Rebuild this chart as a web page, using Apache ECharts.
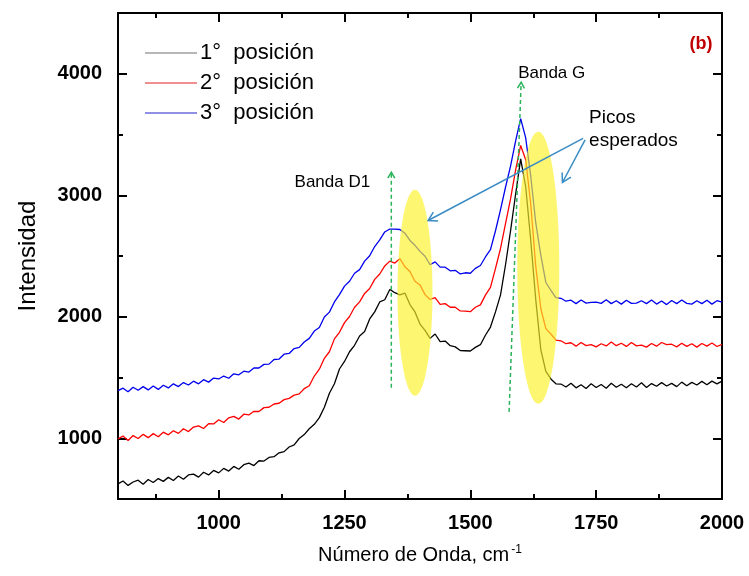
<!DOCTYPE html>
<html>
<head>
<meta charset="utf-8">
<script src="https://cdn.jsdelivr.net/npm/echarts@6/dist/echarts.min.js"></script>
<style>
  html, body { margin: 0; padding: 0; background: #fff; }
  #chart { width: 749px; height: 576px; }
</style>
</head>
<body>
<div id="chart"></div>
<script>
// Raman spectra, wavenumber 800–2000 cm-1 sampled every 10 cm-1
const waveStart = 800;
const waveStep = 10;

const seriesNames = ['1°  posición', '2°  posición', '3°  posición'];

const pos1 = [
  625, 648, 612, 640, 655, 622, 660, 636, 668, 645,
  678, 652, 690, 662, 698, 705, 680, 720, 698, 735,
  715, 752, 730, 768, 745, 782, 795, 775, 815, 812,
  842, 848, 880, 890, 928, 945, 998, 1030, 1078, 1115,
  1170, 1255, 1370, 1448, 1570, 1632, 1712, 1765, 1842, 1878,
  1982, 2040, 2122, 2140, 2225, 2198, 2180, 2195, 2100, 2040,
  1940, 1888, 1822, 1858, 1795, 1800, 1762, 1752, 1722, 1720,
  1718, 1748, 1770, 1848, 1915, 2040, 2180, 2430, 2710, 3010,
  3300, 3070, 2630, 2140, 1730, 1550, 1488, 1448, 1446, 1422,
  1452, 1415, 1440, 1410, 1448, 1418, 1442, 1412, 1452, 1420,
  1444, 1415, 1448, 1422, 1456, 1418, 1450, 1428, 1458, 1430,
  1452, 1425, 1462, 1432, 1460, 1438, 1468, 1440, 1470, 1448,
  1470
];

const pos2 = [
  995, 1018, 982, 1022, 998, 1032, 1005, 1038, 1012, 1050,
  1028, 1062, 1040, 1078, 1055, 1092, 1102, 1080, 1120, 1118,
  1152, 1130, 1168, 1180, 1158, 1198, 1192, 1222, 1220, 1252,
  1255, 1282, 1288, 1318, 1328, 1355, 1365, 1408, 1432, 1512,
  1568, 1658, 1712, 1818, 1872, 1952, 2002, 2078, 2122, 2192,
  2232, 2308, 2352, 2418, 2458, 2442, 2478, 2412, 2372, 2292,
  2262, 2182, 2142, 2158, 2102, 2108, 2078, 2078, 2048, 2046,
  2042, 2078, 2098, 2178, 2242, 2398, 2562, 2768, 2972, 3208,
  3410, 3292, 2928, 2412, 2068, 1902, 1858, 1808, 1802, 1778,
  1786, 1758, 1788, 1762, 1770, 1752, 1778, 1760, 1792, 1762,
  1782, 1756, 1788, 1760, 1766, 1750, 1780, 1758, 1788, 1770,
  1774, 1752, 1782, 1756, 1778, 1750, 1780, 1758, 1784, 1755,
  1772
];

const pos3 = [
  1392, 1412, 1382, 1420, 1395, 1425, 1398, 1430, 1402, 1436,
  1414, 1448, 1425, 1458, 1438, 1470, 1448, 1482, 1462, 1495,
  1488, 1512, 1494, 1530, 1522, 1552, 1545, 1578, 1578, 1608,
  1610, 1648, 1652, 1692, 1698, 1738, 1748, 1792, 1822, 1882,
  1912, 1998, 2038, 2122, 2182, 2252, 2292, 2358, 2388, 2458,
  2502, 2578, 2632, 2698, 2722, 2722, 2718, 2688, 2628, 2588,
  2538, 2498, 2428, 2452, 2408, 2408, 2378, 2382, 2352, 2362,
  2358, 2398, 2422, 2492, 2552, 2708, 2882, 3068, 3242, 3448,
  3630, 3472, 3158, 2772, 2508, 2282, 2218, 2158, 2152, 2128,
  2136, 2108, 2138, 2112, 2118, 2120, 2110, 2140, 2108, 2132,
  2104, 2136, 2110, 2112, 2132, 2108, 2138, 2104, 2130, 2100,
  2134, 2108, 2138, 2110, 2104, 2132, 2108, 2136, 2104, 2132,
  2120
];

// axis ticks
const xMajor = [1000, 1250, 1500, 1750, 2000];
const xMinor = [875, 1125, 1375, 1625, 1875];
const yMajor = [1000, 2000, 3000, 4000];
const yMinor = [1500, 2500, 3500];

const FONT = '"Liberation Sans", Arial, Helvetica, sans-serif';

function pairs(vals) {
  return vals.map((v, i) => [waveStart + i * waveStep, v]);
}

const chart = echarts.init(document.getElementById('chart'), null, { renderer: 'canvas' });

function frameAxis(pos, min, max, ticks, len, showLine, labels, extra, labelMargin) {
  return Object.assign({
    type: 'value',
    position: pos,
    min: min,
    max: max,
    splitLine: { show: false },
    axisLine: { show: showLine, onZero: false, lineStyle: { color: '#000', width: 2 } },
    axisTick: { show: true, inside: true, length: len, customValues: ticks,
                lineStyle: { color: '#000', width: 2 } },
    axisLabel: labels ? {
      show: true, customValues: labels, color: '#000', fontFamily: FONT,
      fontWeight: 'bold', fontSize: 20, margin: labelMargin || 14,
      formatter: function (v) { return String(v); }
    } : { show: false }
  }, extra || {});
}

const legendIcon = 'path://M0,6L52,6L52,7.2L0,7.2Z';

const option = {
  backgroundColor: '#fff',
  animation: false,
  grid: { left: 118, right: 27, top: 13, bottom: 77 },
  legend: {
    orient: 'vertical',
    left: 140,
    top: 37,
    itemWidth: 52,
    itemHeight: 14,
    itemGap: 8,
    textStyle: { fontFamily: FONT, fontSize: 22, color: '#000', padding: [0, 0, 0, -2] },
    data: [
      { name: seriesNames[0], icon: legendIcon, itemStyle: { color: '#707070' } },
      { name: seriesNames[1], icon: legendIcon, itemStyle: { color: '#e02020' } },
      { name: seriesNames[2], icon: legendIcon, itemStyle: { color: '#2020c8' } }
    ]
  },
  xAxis: [
    frameAxis('bottom', 800, 2000, xMajor, 9, true, xMajor, {
      name: 'Número de Onda, cm{sup|-1}',
      nameLocation: 'middle',
      nameGap: 45,
      nameTextStyle: {
        fontFamily: FONT, fontSize: 20, color: '#000',
        rich: { sup: { fontFamily: FONT, fontSize: 12, color: '#000', verticalAlign: 'top', padding: [0, 0, 11, 2] } }
      }
    }, 14),
    frameAxis('bottom', 800, 2000, xMinor, 5, false, null),
    frameAxis('top', 800, 2000, xMajor, 9, true, null),
    frameAxis('top', 800, 2000, xMinor, 5, false, null)
  ],
  yAxis: [
    frameAxis('left', 500, 4500, yMajor, 9, true, yMajor, {
      name: 'Intensidad',
      nameLocation: 'middle',
      nameGap: 78,
      nameTextStyle: { fontFamily: FONT, fontSize: 24, color: '#000' }
    }, 16),
    frameAxis('left', 500, 4500, yMinor, 5, false, null),
    frameAxis('right', 500, 4500, yMajor, 9, true, null),
    frameAxis('right', 500, 4500, yMinor, 5, false, null)
  ],
  series: [
    { name: seriesNames[0], type: 'line', data: pairs(pos1), showSymbol: false, symbol: 'none',
      xAxisIndex: 0, yAxisIndex: 0, color: '#000', lineStyle: { color: '#000', width: 1.3 }, z: 3 },
    { name: seriesNames[1], type: 'line', data: pairs(pos2), showSymbol: false, symbol: 'none',
      xAxisIndex: 0, yAxisIndex: 0, color: '#ff0000', lineStyle: { color: '#ff0000', width: 1.3 }, z: 3 },
    { name: seriesNames[2], type: 'line', data: pairs(pos3), showSymbol: false, symbol: 'none',
      xAxisIndex: 0, yAxisIndex: 0, color: '#0000ee', lineStyle: { color: '#0000ee', width: 1.3 }, z: 3 }
  ]
};

chart.setOption(option);

// Annotations placed in data coordinates
function P(x, y) {
  return chart.convertToPixel({ xAxisIndex: 0, yAxisIndex: 0 }, [x, y]);
}

function chevron(from, to, len, color, width) {
  const a = Math.atan2(to[1] - from[1], to[0] - from[0]);
  const s = Math.PI / 6;
  const p1 = [to[0] - len * Math.cos(a - s), to[1] - len * Math.sin(a - s)];
  const p2 = [to[0] - len * Math.cos(a + s), to[1] - len * Math.sin(a + s)];
  return {
    type: 'polyline', z: 60,
    shape: { points: [p1, to, p2] },
    style: { stroke: color, lineWidth: width, fill: null }
  };
}

function arrow(fromData, toData, color, width, dash, head) {
  const a = P(fromData[0], fromData[1]);
  const b = P(toData[0], toData[1]);
  return [
    {
      type: 'line', z: 60,
      shape: { x1: a[0], y1: a[1], x2: b[0], y2: b[1] },
      style: { stroke: color, lineWidth: width, lineDash: dash || null }
    },
    chevron(a, b, head, color, width)
  ];
}

function ellipse(cData, rx, ry) {
  const c = P(cData[0], cData[1]);
  return {
    type: 'ellipse', z: 50,
    shape: { cx: c[0], cy: c[1], rx: rx, ry: ry },
    style: { fill: 'rgba(250,242,40,0.66)' }
  };
}

function label(pData, text, align, size, color, weight) {
  const p = P(pData[0], pData[1]);
  return {
    type: 'text', z: 70,
    x: p[0], y: p[1],
    style: {
      text: text, fill: color || '#000', fontFamily: FONT, fontSize: size,
      fontWeight: weight || 'normal', align: align, verticalAlign: 'middle', lineHeight: 23
    }
  };
}

const green = '#2bb35a';
const steel = '#3a8cc4';

const elements = [].concat(
  [ellipse([1390, 2198], 17.5, 103), ellipse([1635, 2404], 21, 136)],
  arrow([1343, 1415], [1343, 3190], green, 1.5, [4, 3], 7),
  arrow([1577, 1217], [1601, 3930], green, 1.5, [4, 3], 7),
  arrow([1724, 3468], [1416, 2792], steel, 1.5, null, 10),
  arrow([1728, 3455], [1683, 3105], steel, 1.5, null, 10),
  [
    label([1301, 3105], 'Banda D1', 'right', 17),
    label([1595, 4004], 'Banda G', 'left', 17),
    label([1736, 3546], 'Picos\nesperados', 'left', 19),
    label([1981, 4243], '(b)', 'right', 18, '#c00000', 'bold')
  ]
);

chart.setOption({ graphic: { elements: elements } });
</script>
</body>
</html>
